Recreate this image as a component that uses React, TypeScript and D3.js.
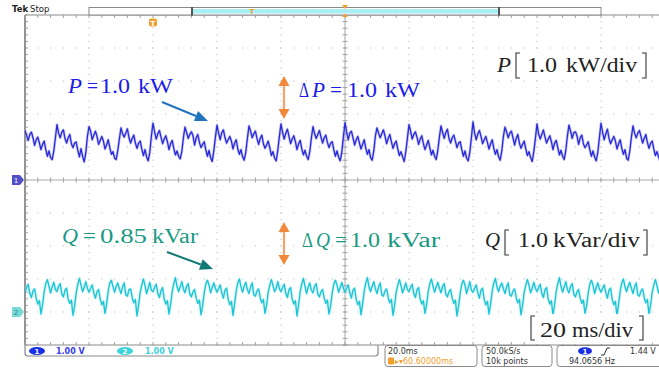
import React from 'react';
import * as d3 from 'd3';

// Sample time (ms) for each stored point, 0.5 ms apart over 10 divisions of 20 ms
const sampleMs: number[] = d3.range(0, 200.25, 0.5);

// Channel 1: active power P, in divisions (1.0 kW/div) above the channel-1 ground marker
const pValues: number[] = [
  1.50, 1.35, 1.20, 1.38, 1.45, 1.28, 1.05, 1.22, 1.30, 1.12, 0.92, 1.08, 1.18, 0.92, 0.72, 0.88, 0.68, 0.62, 0.88, 1.28,
  1.68, 1.42, 1.28, 1.45, 1.52, 1.26, 1.12, 1.28, 1.38, 1.10, 0.98, 1.12, 1.15, 0.90, 0.70, 0.95, 0.72, 0.55, 0.82, 1.32,
  1.62, 1.48, 1.22, 1.36, 1.48, 1.32, 1.08, 1.20, 1.32, 1.18, 0.94, 1.06, 1.22, 0.98, 0.78, 0.86, 0.66, 0.62, 0.90, 1.25,
  1.58, 1.40, 1.30, 1.42, 1.55, 1.28, 1.12, 1.26, 1.36, 1.12, 0.96, 1.12, 1.18, 0.94, 0.74, 0.92, 0.70, 0.58, 0.84, 1.34,
  1.72, 1.46, 1.24, 1.40, 1.50, 1.30, 1.10, 1.24, 1.34, 1.16, 0.92, 1.10, 1.20, 0.96, 0.76, 0.88, 0.72, 0.64, 0.86, 1.28,
  1.60, 1.44, 1.26, 1.38, 1.46, 1.34, 1.06, 1.28, 1.38, 1.14, 0.98, 1.08, 1.16, 0.92, 0.72, 0.90, 0.68, 0.56, 0.88, 1.30,
  1.66, 1.42, 1.22, 1.44, 1.52, 1.28, 1.12, 1.22, 1.32, 1.18, 0.94, 1.12, 1.22, 0.94, 0.78, 0.92, 0.70, 0.60, 0.84, 1.26,
  1.64, 1.48, 1.28, 1.40, 1.48, 1.26, 1.08, 1.26, 1.36, 1.10, 0.96, 1.06, 1.18, 0.98, 0.74, 0.86, 0.66, 0.58, 0.90, 1.32,
  1.70, 1.44, 1.24, 1.42, 1.54, 1.32, 1.10, 1.24, 1.34, 1.16, 0.92, 1.10, 1.20, 0.94, 0.76, 0.90, 0.72, 0.62, 0.86, 1.28,
  1.62, 1.40, 1.26, 1.38, 1.50, 1.30, 1.12, 1.28, 1.36, 1.14, 0.98, 1.12, 1.16, 0.92, 0.72, 0.88, 0.70, 0.58, 0.84, 1.30,
  1.74, 1.46, 1.22, 1.42, 1.48, 1.28, 1.06, 1.22, 1.32, 1.12, 0.94, 1.08, 1.22, 0.96, 0.78, 0.92, 0.68, 0.60, 0.88, 1.34,
  1.58, 1.42, 1.28, 1.40, 1.52, 1.34, 1.10, 1.26, 1.38, 1.16, 0.96, 1.10, 1.18, 0.94, 0.74, 0.86, 0.70, 0.56, 0.86, 1.26,
  1.68, 1.48, 1.24, 1.38, 1.46, 1.30, 1.08, 1.24, 1.34, 1.10, 0.92, 1.06, 1.20, 0.98, 0.76, 0.90, 0.72, 0.62, 0.90, 1.30,
  1.64, 1.44, 1.26, 1.44, 1.54, 1.26, 1.12, 1.28, 1.36, 1.18, 0.98, 1.12, 1.16, 0.92, 0.72, 0.88, 0.66, 0.58, 0.84, 1.28,
  1.76, 1.42, 1.22, 1.40, 1.50, 1.32, 1.10, 1.22, 1.32, 1.14, 0.94, 1.10, 1.22, 0.96, 0.78, 0.92, 0.70, 0.60, 0.88, 1.32,
  1.60, 1.46, 1.28, 1.42, 1.48, 1.28, 1.06, 1.26, 1.38, 1.12, 0.96, 1.08, 1.18, 0.94, 0.74, 0.86, 0.68, 0.56, 0.86, 1.26,
  1.70, 1.40, 1.24, 1.38, 1.52, 1.30, 1.12, 1.24, 1.34, 1.16, 0.92, 1.12, 1.20, 0.98, 0.76, 0.90, 0.72, 0.62, 0.90, 1.34,
  1.66, 1.48, 1.26, 1.44, 1.46, 1.34, 1.08, 1.28, 1.36, 1.10, 0.98, 1.06, 1.16, 0.92, 0.72, 0.88, 0.70, 0.58, 0.84, 1.28,
  1.72, 1.44, 1.22, 1.40, 1.54, 1.26, 1.10, 1.22, 1.32, 1.18, 0.94, 1.10, 1.22, 0.96, 0.78, 0.92, 0.66, 0.60, 0.88, 1.30,
  1.64, 1.42, 1.28, 1.42, 1.50, 1.32, 1.12, 1.26, 1.38, 1.14, 0.96, 1.12, 1.18, 0.94, 0.74, 0.86, 0.70, 0.56, 0.86, 1.32,
  1.68,
];

// Channel 2: reactive power Q, in divisions (1.0 kVar/div) above the channel-2 ground marker
const qValues: number[] = [
  0.58, 0.74, 0.84, 0.56, 0.44, 0.64, 0.70, 0.42, 0.24, 0.34, -0.06, 0.22, 0.62, 0.86, 0.98, 0.78, 0.58, 0.76, 0.90, 0.68,
  0.62, 0.78, 0.86, 0.54, 0.46, 0.66, 0.72, 0.38, 0.26, 0.36, -0.10, 0.18, 0.58, 0.84, 1.02, 0.82, 0.62, 0.74, 0.92, 0.72,
  0.60, 0.72, 0.82, 0.58, 0.42, 0.62, 0.68, 0.40, 0.22, 0.32, -0.04, 0.24, 0.64, 0.88, 0.96, 0.76, 0.60, 0.78, 0.88, 0.70,
  0.56, 0.76, 0.88, 0.52, 0.48, 0.68, 0.70, 0.44, 0.28, 0.38, -0.12, 0.20, 0.60, 0.82, 1.00, 0.80, 0.56, 0.72, 0.90, 0.66,
  0.62, 0.74, 0.84, 0.56, 0.44, 0.64, 0.74, 0.40, 0.24, 0.34, -0.06, 0.22, 0.62, 0.86, 1.04, 0.78, 0.62, 0.76, 0.92, 0.70,
  0.58, 0.78, 0.86, 0.54, 0.46, 0.62, 0.68, 0.42, 0.26, 0.36, -0.08, 0.18, 0.58, 0.84, 0.96, 0.82, 0.58, 0.74, 0.88, 0.72,
  0.60, 0.72, 0.82, 0.58, 0.42, 0.66, 0.72, 0.38, 0.22, 0.32, -0.10, 0.24, 0.64, 0.88, 1.00, 0.76, 0.60, 0.78, 0.90, 0.68,
  0.56, 0.76, 0.88, 0.52, 0.48, 0.64, 0.70, 0.44, 0.28, 0.38, -0.04, 0.20, 0.60, 0.82, 0.98, 0.80, 0.62, 0.72, 0.92, 0.70,
  0.62, 0.74, 0.84, 0.56, 0.44, 0.68, 0.74, 0.40, 0.24, 0.34, -0.12, 0.22, 0.62, 0.86, 1.02, 0.78, 0.56, 0.76, 0.88, 0.66,
  0.58, 0.78, 0.86, 0.54, 0.46, 0.62, 0.68, 0.42, 0.26, 0.36, -0.06, 0.18, 0.58, 0.84, 0.96, 0.82, 0.60, 0.74, 0.90, 0.72,
  0.60, 0.72, 0.82, 0.58, 0.42, 0.66, 0.72, 0.38, 0.22, 0.32, -0.08, 0.24, 0.64, 0.88, 1.04, 0.76, 0.62, 0.78, 0.92, 0.70,
  0.56, 0.76, 0.88, 0.52, 0.48, 0.64, 0.70, 0.44, 0.28, 0.38, -0.10, 0.20, 0.60, 0.82, 0.98, 0.80, 0.58, 0.72, 0.88, 0.68,
  0.62, 0.74, 0.84, 0.56, 0.44, 0.68, 0.74, 0.40, 0.24, 0.34, -0.04, 0.22, 0.62, 0.86, 1.00, 0.78, 0.60, 0.76, 0.90, 0.72,
  0.58, 0.78, 0.86, 0.54, 0.46, 0.62, 0.68, 0.42, 0.26, 0.36, -0.12, 0.18, 0.58, 0.84, 0.96, 0.82, 0.56, 0.74, 0.92, 0.66,
  0.60, 0.72, 0.82, 0.58, 0.42, 0.66, 0.72, 0.38, 0.22, 0.32, -0.06, 0.24, 0.64, 0.88, 1.02, 0.76, 0.62, 0.78, 0.88, 0.70,
  0.56, 0.76, 0.88, 0.52, 0.48, 0.64, 0.70, 0.44, 0.28, 0.38, -0.08, 0.20, 0.60, 0.82, 0.98, 0.80, 0.58, 0.72, 0.90, 0.72,
  0.62, 0.74, 0.84, 0.56, 0.44, 0.68, 0.74, 0.40, 0.24, 0.34, -0.10, 0.22, 0.62, 0.86, 1.04, 0.78, 0.60, 0.76, 0.92, 0.68,
  0.58, 0.78, 0.86, 0.54, 0.46, 0.62, 0.68, 0.42, 0.26, 0.36, -0.04, 0.18, 0.58, 0.84, 0.96, 0.82, 0.56, 0.74, 0.88, 0.70,
  0.60, 0.72, 0.82, 0.58, 0.42, 0.66, 0.72, 0.38, 0.22, 0.32, -0.12, 0.24, 0.64, 0.88, 1.00, 0.76, 0.62, 0.78, 0.90, 0.72,
  0.56, 0.76, 0.88, 0.52, 0.48, 0.64, 0.70, 0.44, 0.28, 0.38, -0.06, 0.20, 0.60, 0.82, 0.98, 0.80, 0.58, 0.72, 0.92, 0.66,
  0.60,
];

// Channel ground offsets (divisions from screen centre)
const ch1Offset = 0;
const ch2Offset = -4;

// Readout strings
const ch1Scale = '1.00 V';
const ch2Scale = '1.00 V';
const timeBase = '20.0ms';
const triggerPos = '60.60000ms';
const sampleRate = '50.0kS/s';
const recordLen = '10k points';
const trigLevel = '1.44 V';
const trigFreq = '94.0656 Hz';

const W = 659;
const H = 368;
const left = 25;
const top = 15;
const divW = 64;
const divH = 33;

const x = d3.scaleLinear().domain([0, 200]).range([left, left + 10 * divW]);
const y = d3.scaleLinear().domain([-5, 5]).range([top + 10 * divH, top]);

const serif = '"Liberation Serif", "DejaVu Serif", serif';
const sans = '"DejaVu Sans", "Liberation Sans", sans-serif';

function trace(values: number[], offset: number) {
  return d3
    .line<number>()
    .x((_, i) => x(sampleMs[i]))
    .y((v) => y(v + offset))
    .curve(d3.curveLinear)(values) as string;
}

// A run of math-style text fitted to a given width
function Word({ x0, w, by, children, italic, color, size = 20 }: {
  x0: number; w: number; by: number; children: React.ReactNode; italic?: boolean; color: string; size?: number;
}) {
  return (
    <text
      x={x0}
      y={by}
      fontFamily={serif}
      fontSize={size}
      fontStyle={italic ? 'italic' : 'normal'}
      fill={color}
      textLength={w}
      lengthAdjust="spacingAndGlyphs"
    >
      {children}
    </text>
  );
}

function Bracket({ x0, y0, y1, side, color = '#333' }: { x0: number; y0: number; y1: number; side: 'l' | 'r'; color?: string }) {
  const d = side === 'l' ? `M${x0 + 4},${y0} H${x0} V${y1} H${x0 + 4}` : `M${x0 - 4},${y0} H${x0} V${y1} H${x0 - 4}`;
  return <path d={d} fill="none" stroke={color} strokeWidth={1.1} />;
}

function DoubleArrow({ cx, y0, y1 }: { cx: number; y0: number; y1: number }) {
  const c = '#f08a3a';
  return (
    <g>
      <line x1={cx} x2={cx} y1={y0 + 8} y2={y1 - 8} stroke="#f4a468" strokeWidth={2.2} />
      <path d={`M${cx},${y0} L${cx - 5.5},${y0 + 10} L${cx + 5.5},${y0 + 10} Z`} fill={c} />
      <path d={`M${cx},${y1} L${cx - 5.5},${y1 - 10} L${cx + 5.5},${y1 - 10} Z`} fill={c} />
    </g>
  );
}

function Pointer({ x0, y0, x1, y1, color }: { x0: number; y0: number; x1: number; y1: number; color: string }) {
  const ang = Math.atan2(y1 - y0, x1 - x0);
  const len = 13;
  const half = 5.5;
  const bx = x1 - len * Math.cos(ang);
  const by = y1 - len * Math.sin(ang);
  const px = -Math.sin(ang) * half;
  const py = Math.cos(ang) * half;
  return (
    <g>
      <line x1={x0} y1={y0} x2={bx} y2={by} stroke={color} strokeWidth={2} />
      <path d={`M${x1},${y1} L${bx + px},${by + py} L${bx - px},${by - py} Z`} fill={color} />
    </g>
  );
}

export default function App() {
  const bottom = top + 10 * divH;
  const cx = x(100);
  const cy = y(0);
  const minorX = d3.range(0, 51).map((i) => left + (i * divW) / 5);
  const minorY = d3.range(0, 51).map((i) => top + (i * divH) / 5);
  const gridCols = d3.range(1, 10).filter((i) => i !== 5);
  const gridRows = d3.range(1, 10).filter((i) => i !== 5);

  const dots: React.ReactNode[] = [];
  gridRows.forEach((r) => {
    minorX.forEach((mx, j) => {
      dots.push(<rect key={`r${r}-${j}`} x={mx - 0.5} y={top + r * divH - 0.5} width={1} height={1} fill="#b4b4b4" />);
    });
  });
  gridCols.forEach((c) => {
    minorY.forEach((my, j) => {
      dots.push(<rect key={`c${c}-${j}`} x={left + c * divW - 0.5} y={my - 0.5} width={1} height={1} fill="#b4b4b4" />);
    });
  });

  const axisColor = '#8a8a8a';
  const blue = '#1c1ce8';
  const teal = '#1a9a84';
  const ink = '#222';

  return (
    <svg
      width={W}
      height={H}
      viewBox={`0 0 ${W} ${H}`}
      style={{ position: 'absolute', left: 0, top: 0, background: '#fff' }}
    >
      <defs>
        <clipPath id="plotArea">
          <rect x={left} y={top} width={W - left} height={bottom - top} />
        </clipPath>
        <filter id="soft" x="-5%" y="-20%" width="110%" height="140%">
          <feGaussianBlur stdDeviation="0.35" />
        </filter>
      </defs>
      <rect x={0} y={0} width={W} height={H} fill="#fff" />

      {/* graticule dots */}
      <g>{dots}</g>

      {/* centre crosshair */}
      <line x1={left} x2={W} y1={cy} y2={cy} stroke="#a8a8a8" strokeWidth={1} />
      <line x1={cx} x2={cx} y1={top} y2={bottom} stroke="#a8a8a8" strokeWidth={1} />
      {minorX.map((mx, i) => (
        <line key={`chx${i}`} x1={mx} x2={mx} y1={cy - 2.5} y2={cy + 2.5} stroke="#a0a0a0" strokeWidth={1} />
      ))}
      {minorY.map((my, i) => (
        <line key={`chy${i}`} x1={cx - 2.5} x2={cx + 2.5} y1={my} y2={my} stroke="#a0a0a0" strokeWidth={1} />
      ))}

      {/* border with minor ticks */}
      <line x1={left} x2={W} y1={top} y2={top} stroke={axisColor} strokeWidth={1.2} />
      <line x1={left} x2={W} y1={bottom} y2={bottom} stroke={axisColor} strokeWidth={1.2} />
      <line x1={left} x2={left} y1={top} y2={bottom} stroke="#7a7a7a" strokeWidth={1.6} />
      {minorX.map((mx, i) => (
        <g key={`bt${i}`}>
          <line x1={mx} x2={mx} y1={top} y2={top + 3} stroke="#a0a0a0" strokeWidth={1} />
          <line x1={mx} x2={mx} y1={bottom - 3} y2={bottom} stroke="#a0a0a0" strokeWidth={1} />
        </g>
      ))}
      {minorY.map((my, i) => (
        <line key={`lt${i}`} x1={left} x2={left + 3} y1={my} y2={my} stroke="#a0a0a0" strokeWidth={1} />
      ))}

      {/* waveforms */}
      <g clipPath="url(#plotArea)">
        <path d={trace(pValues, ch1Offset)} fill="none" stroke="#9a9af0" strokeWidth={2.8} strokeOpacity={0.55} strokeLinejoin="round" />
        <path d={trace(pValues, ch1Offset)} fill="none" stroke="#2a2ad6" strokeWidth={1.3} filter="url(#soft)" strokeLinejoin="round" />
        <path d={trace(qValues, ch2Offset)} fill="none" stroke="#9eeaf0" strokeWidth={2.8} strokeOpacity={0.6} strokeLinejoin="round" />
        <path d={trace(qValues, ch2Offset)} fill="none" stroke="#1cc4d4" strokeWidth={1.3} filter="url(#soft)" strokeLinejoin="round" />
      </g>

      {/* channel ground markers */}
      <path d={`M12,${y(ch1Offset) - 5} h8 l4,5 l-4,5 h-8 Z`} fill="#5050c8" />
      <text x={16} y={y(ch1Offset) + 3} fontFamily={sans} fontSize={7} fill="#ffffff" textAnchor="middle">1</text>
      <path d={`M12,${y(ch2Offset) - 5} h8 l4,5 l-4,5 h-8 Z`} fill="#7ad8d8" />
      <text x={16} y={y(ch2Offset) + 3} fontFamily={sans} fontSize={7} fill="#2a8a8a" textAnchor="middle">2</text>

      {/* header */}
      <text x={12} y={12} fontFamily={sans} fontSize={8.5} fill="#222">
        <tspan fontWeight="bold">Tek</tspan>
        <tspan dx={2}>Stop</tspan>
      </text>
      <rect x={89} y={7.5} width={512} height={7.5} fill="#fff" stroke="#8a8a8a" strokeWidth={1} />
      <rect x={192} y={9} width={307} height={4.5} fill="#a8eef2" />
      <line x1={192} x2={192} y1={7} y2={15.5} stroke="#444" strokeWidth={1.8} />
      <line x1={499} x2={499} y1={7} y2={15.5} stroke="#444" strokeWidth={1.8} />
      <text x={252} y={14} fontFamily={sans} fontSize={7} fontWeight="bold" fill="#f0a030" textAnchor="middle">T</text>
      <path d={`M342,5 L348,5 L345,9 Z`} fill="#f0a030" />
      <path d={`M342,17 L348,17 L345,13.5 Z`} fill="#f0a030" />
      <rect x={149} y={18.5} width={8} height={8} rx={2} fill="#f0a030" />
      <text x={153} y={25.5} fontFamily={sans} fontSize={7} fontWeight="bold" fill="#fff" textAnchor="middle">T</text>

      {/* P annotations */}
      <Word x0={68} w={14} by={93} italic color={blue}>P</Word>
      <Word x0={87} w={11} by={93} color={blue}>=</Word>
      <Word x0={100} w={30} by={93} color={blue}>1.0</Word>
      <Word x0={138} w={35} by={93} color={blue}>kW</Word>
      <Pointer x0={162} y0={102} x1={208} y1={121} color="#1f74bc" />
      <DoubleArrow cx={284} y0={76} y1={119} />
      <Word x0={299} w={10} by={97} color={blue}>Δ</Word>
      <Word x0={312} w={13} by={97} italic color={blue}>P</Word>
      <Word x0={330} w={12} by={97} color={blue}>=</Word>
      <Word x0={347} w={30} by={97} color={blue}>1.0</Word>
      <Word x0={385} w={35} by={97} color={blue}>kW</Word>

      <rect x={494} y={50} width={158} height={30} fill="#fff" />
      <Word x0={497} w={14} by={72} italic color={ink}>P</Word>
      <Bracket x0={516} y0={53} y1={78} side="l" />
      <Word x0={527} w={30} by={72} color={ink}>1.0</Word>
      <Word x0={566} w={71} by={72} color={ink}>kW/div</Word>
      <Bracket x0={646} y0={53} y1={78} side="r" />

      {/* Q annotations */}
      <Word x0={62} w={16} by={243} italic color={teal}>Q</Word>
      <Word x0={83} w={13} by={243} color={teal}>=</Word>
      <Word x0={100} w={47} by={243} color={teal}>0.85</Word>
      <Word x0={152} w={46} by={243} color={teal}>kVar</Word>
      <Pointer x0={167} y0={252} x1={213} y1={269} color="#127a76" />
      <DoubleArrow cx={284} y0={222} y1={265} />
      <Word x0={302} w={11} by={247} color={teal}>Δ</Word>
      <Word x0={316} w={14} by={247} italic color={teal}>Q</Word>
      <Word x0={335} w={12} by={247} color={teal}>=</Word>
      <Word x0={350} w={30} by={247} color={teal}>1.0</Word>
      <Word x0={387} w={53} by={247} color={teal}>kVar</Word>

      <rect x={482} y={228} width={170} height={30} fill="#fff" />
      <Word x0={485} w={15} by={247} italic color={ink}>Q</Word>
      <Bracket x0={505} y0={230} y1={255} side="l" />
      <Word x0={518} w={30} by={247} color={ink}>1.0</Word>
      <Word x0={553} w={87} by={247} color={ink}>kVar/div</Word>
      <Bracket x0={647} y0={230} y1={255} side="r" />

      <rect x={527} y={314} width={125} height={30} fill="#fff" />
      <Bracket x0={531} y0={316} y1={340} side="l" />
      <Word x0={540} w={26} by={337} color={ink}>20</Word>
      <Word x0={572} w={61} by={337} color={ink}>ms/div</Word>
      <Bracket x0={643} y0={316} y1={340} side="r" />

      {/* status bar */}
      <path d={`M25,345 V353 Q25,356 28,356 H375 Q378,356 378,353 V345`} fill="none" stroke="#8a8a8a" strokeWidth={1.2} />
      <ellipse cx={37} cy={351} rx={8} ry={4} fill="#1a2ee6" />
      <text x={37} y={353.5} fontFamily={sans} fontSize={7} fill="#fff" textAnchor="middle" fontWeight="bold">1</text>
      <text x={56} y={354} fontFamily={sans} fontSize={8} fill="#3a3ae6" fontWeight="bold">{ch1Scale}</text>
      <ellipse cx={125} cy={351} rx={8} ry={4} fill="#3cd4dc" />
      <text x={125} y={353.5} fontFamily={sans} fontSize={7} fill="#fff" textAnchor="middle" fontWeight="bold">2</text>
      <text x={145} y={354} fontFamily={sans} fontSize={8} fill="#40d0dc" fontWeight="bold">{ch2Scale}</text>

      <rect x={385} y={345.5} width={92} height={21} rx={3} fill="#fff" stroke="#8a8a8a" strokeWidth={1} />
      <text x={388} y={354} fontFamily={sans} fontSize={8} fill="#333">{timeBase}</text>
      <rect x={388} y={357.5} width={6} height={7} rx={1} fill="#f0a030" />
      <text x={395} y={364} fontFamily={sans} fontSize={8} fill="#f0a030">
        ▸▾{triggerPos}
      </text>

      <rect x={482} y={345.5} width={70} height={21} rx={3} fill="#fff" stroke="#8a8a8a" strokeWidth={1} />
      <text x={486} y={354} fontFamily={sans} fontSize={8} fill="#333">{sampleRate}</text>
      <text x={486} y={363.5} fontFamily={sans} fontSize={8} fill="#333">{recordLen}</text>

      <rect x={557} y={345.5} width={110} height={21} rx={3} fill="#fff" stroke="#8a8a8a" strokeWidth={1} />
      <ellipse cx={585} cy={351} rx={7} ry={3.8} fill="#1a2ee6" />
      <text x={585} y={353.5} fontFamily={sans} fontSize={7} fill="#fff" textAnchor="middle" fontWeight="bold">1</text>
      <path d="M601,355 L604,355 L607,348 L610,348" fill="none" stroke="#333" strokeWidth={1} />
      <text x={630} y={354} fontFamily={sans} fontSize={8} fill="#333">{trigLevel}</text>
      <text x={569} y={363.5} fontFamily={sans} fontSize={8} fill="#333">{trigFreq}</text>
    </svg>
  );
}
